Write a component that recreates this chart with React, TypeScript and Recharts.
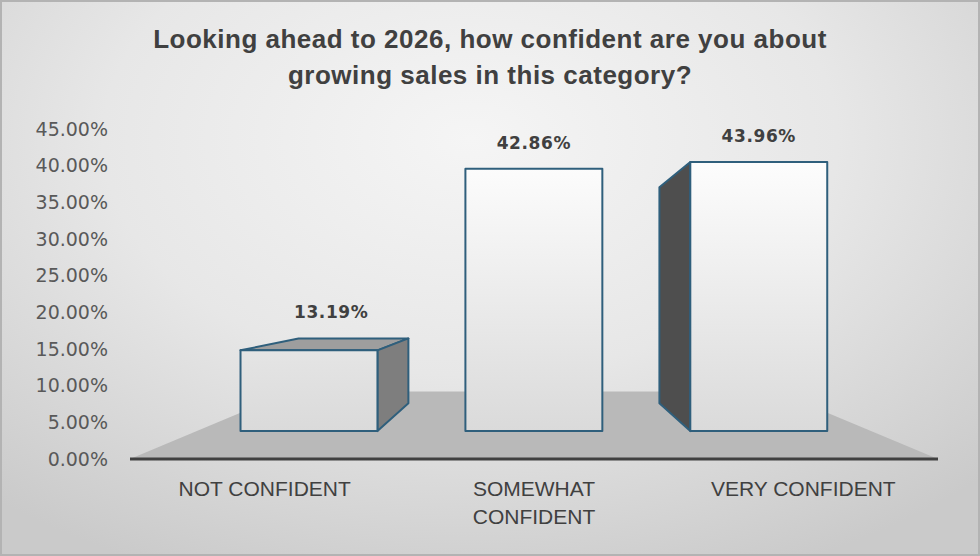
import { BarChart, Bar, XAxis, YAxis, ReferenceArea, LabelList } from "recharts";

const categories = ["NOT CONFIDENT", "SOMEWHAT CONFIDENT", "VERY CONFIDENT"];
const shares = [13.19, 42.86, 43.96];
const yTicks = [0, 5, 10, 15, 20, 25, 30, 35, 40, 45];
const titleLines = [
  "Looking ahead to 2026, how confident are you about",
  "growing sales in this category?",
];

const data = categories.map((name, i) => ({ name, value: shares[i] }));

const W = 980;
const H = 556;
const PLOT_LEFT = 130;
const PLOT_RIGHT = 938;
const PLOT_TOP = 129;
const PLOT_BOTTOM = 459;

// fake perspective: everything shrinks toward one vanishing point
const VP_X = (PLOT_LEFT + PLOT_RIGHT) / 2;
const VP_Y = 290;
const FRONT = 0.165;
const BACK = 0.33;
const FLOOR = 0.4;

const px = (x: number, k: number) => x + (VP_X - x) * k;
const py = (y: number, k: number) => y + (VP_Y - y) * k;

const EDGE = "#2f5f7c";

function Box3D(props: any) {
  const { x, y, width, height } = props;
  if (!width || height == null) return null;
  const l = x, r = x + width, t = y, b = y + height;
  const fl = px(l, FRONT), fr = px(r, FRONT), ft = py(t, FRONT), fb = py(b, FRONT);
  const bl = px(l, BACK), br = px(r, BACK), bt = py(t, BACK), bb = py(b, BACK);
  const pts = (arr: number[][]) => arr.map((p) => p.join(",")).join(" ");
  return (
    <g strokeLinejoin="round">
      {bt < ft && (
        <polygon points={pts([[fl, ft], [fr, ft], [br, bt], [bl, bt]])} fill="#9e9e9e" stroke={EDGE} strokeWidth={2} />
      )}
      {br > fr && (
        <polygon points={pts([[fr, ft], [br, bt], [br, bb], [fr, fb]])} fill="#7e7e7e" stroke={EDGE} strokeWidth={2} />
      )}
      {bl < fl && (
        <polygon points={pts([[fl, ft], [bl, bt], [bl, bb], [fl, fb]])} fill="#4e4e4e" stroke={EDGE} strokeWidth={2} />
      )}
      <rect x={fl} y={ft} width={fr - fl} height={fb - ft} fill="url(#frontFace)" stroke={EDGE} strokeWidth={2} />
    </g>
  );
}

function ValueLabel(props: any) {
  const vb = props.viewBox || props;
  const { x, y, width } = vb;
  if (x == null || !width) return null;
  const cx = x + width / 2;
  const ft = py(y, FRONT);
  const bt = py(y, BACK);
  const topShown = bt < ft;
  const lx = topShown ? px(cx, (FRONT + BACK) / 2) : px(cx, FRONT);
  const ly = Math.min(ft, bt) - 20;
  return (
    <text x={lx} y={ly} textAnchor="middle" fill="#404040" fontSize={17} fontWeight="bold"
      fontFamily="'DejaVu Sans', Verdana, sans-serif" letterSpacing={0.6}>
      {Number(props.value).toFixed(2)}%
    </text>
  );
}

function Floor(props: any) {
  const { x, y, width, height } = props;
  const l = x, r = x + width, b = y + height;
  const pts = [
    [l, b],
    [r, b],
    [px(r, FLOOR), py(b, FLOOR)],
    [px(l, FLOOR), py(b, FLOOR)],
  ].map((p) => p.join(",")).join(" ");
  return <polygon points={pts} fill="#b9b9b9" />;
}

function CategoryTick({ x, y, payload }: any) {
  const label: string = payload.value;
  const lines = label.length > 16 ? label.split(" ") : [label];
  return (
    <text x={x} y={y} textAnchor="middle" fill="#404040" fontSize={21}
      fontFamily="'Liberation Sans', Arial, sans-serif">
      {lines.map((ln, i) => (
        <tspan key={i} x={x} dy={i === 0 ? 37 : 28}>{ln}</tspan>
      ))}
    </text>
  );
}

export default function App() {
  return (
    <div
      style={{
        position: "absolute",
        left: 0,
        top: 0,
        width: W,
        height: H,
        background: "radial-gradient(ellipse 75% 85% at 48% 25%, #f5f5f5 0%, #e7e7e7 50%, #cacaca 100%)",
        boxShadow: "inset 0 0 0 2px #b3b3b3",
        overflow: "hidden",
      }}
    >
      <div
        style={{
          position: "absolute",
          top: 21,
          left: 0,
          width: W,
          textAlign: "center",
          fontFamily: "'Liberation Sans', Arial, sans-serif",
          fontWeight: "bold",
          fontSize: 26,
          letterSpacing: 0.5,
          lineHeight: "36px",
          color: "#404040",
        }}
      >
        {titleLines.map((t) => (
          <div key={t}>{t}</div>
        ))}
      </div>
      <BarChart
        width={W}
        height={H}
        data={data}
        margin={{ top: PLOT_TOP, right: W - PLOT_RIGHT, bottom: H - PLOT_BOTTOM - 60, left: PLOT_LEFT - 122 }}
        barCategoryGap="19.5%"
        style={{ position: "absolute", left: 0, top: 0 }}
      >
        <defs>
          <linearGradient id="frontFace" gradientUnits="userSpaceOnUse" x1="0" y1="160" x2="0" y2="432">
            <stop offset="0%" stopColor="#fdfdfd" />
            <stop offset="100%" stopColor="#dadada" />
          </linearGradient>
        </defs>
        <ReferenceArea y1={0} y2={45} shape={<Floor />} ifOverflow="visible" />
        <XAxis
          dataKey="name"
          tickLine={false}
          tickSize={0}
          tickMargin={0}
          axisLine={{ stroke: "#404040", strokeWidth: 3 }}
          height={60}
          interval={0}
          tick={<CategoryTick />}
        />
        <YAxis
          domain={[0, 45]}
          ticks={yTicks}
          width={122}
          axisLine={false}
          tickLine={false}
          tickSize={0}
          tickMargin={22}
          tickFormatter={(v: number) => v.toFixed(2) + "%"}
          tick={{ fill: "#595959", fontSize: 19, fontFamily: "'DejaVu Sans', Verdana, sans-serif" }}
        />
        <Bar dataKey="value" shape={<Box3D />} isAnimationActive={false}>
          <LabelList dataKey="value" content={<ValueLabel />} />
        </Bar>
      </BarChart>
    </div>
  );
}
